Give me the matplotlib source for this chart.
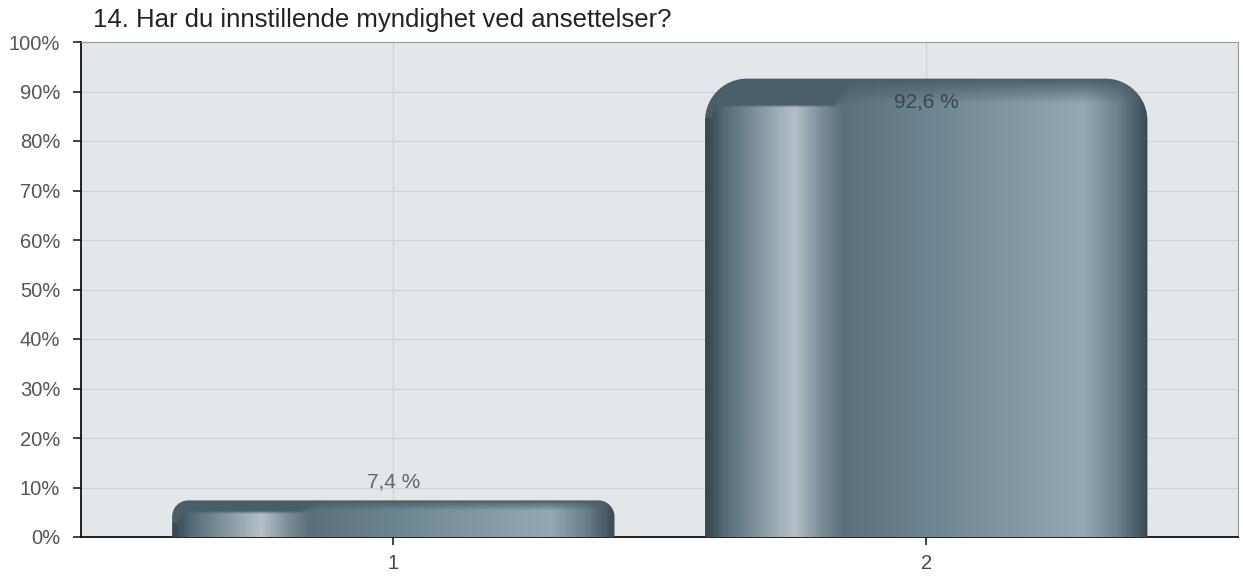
import numpy as np
import matplotlib.pyplot as plt
from matplotlib.path import Path
from matplotlib.colors import LinearSegmentedColormap, to_rgb

plt.rcParams["font.family"] = ["Liberation Sans", "DejaVu Sans"]

title = "14. Har du innstillende myndighet ved ansettelser?"
categories = ["1", "2"]
values = [7.4, 92.6]
labels = ["7,4 %", "92,6 %"]
yticks = [0, 10, 20, 30, 40, 50, 60, 70, 80, 90, 100]

# horizontal metallic profile of the bars
stops = [(0.0, "#36454f"), (0.04, "#526a77"), (0.12, "#8596a0"), (0.2, "#b6c1c7"),
         (0.26, "#7b8e98"), (0.31, "#5a6f7b"), (0.5, "#6c8491"), (0.75, "#889eaa"),
         (0.86, "#93a8b4"), (0.94, "#677d89"), (1.0, "#3a4b56")]
metal = LinearSegmentedColormap.from_list("metal", stops)
top_dark = np.array(to_rgb("#4a5e6a"))


def rounded_top(x0, x1, y0, y1, rx, ry):
    k = 0.5523
    verts = [(x0, y0), (x0, y1 - ry),
             (x0, y1 - ry + k * ry), (x0 + rx - k * rx, y1), (x0 + rx, y1),
             (x1 - rx, y1),
             (x1 - rx + k * rx, y1), (x1, y1 - ry + k * ry), (x1, y1 - ry),
             (x1, y0), (x0, y0)]
    codes = [Path.MOVETO, Path.LINETO,
             Path.CURVE4, Path.CURVE4, Path.CURVE4,
             Path.LINETO,
             Path.CURVE4, Path.CURVE4, Path.CURVE4,
             Path.LINETO, Path.CLOSEPOLY]
    return Path(verts, codes)


fig = plt.figure(figsize=(12.43, 5.78), dpi=100)
ax = fig.add_axes([81 / 1243, 1 - 537 / 578, 1157 / 1243, 495 / 578])
ax.set_facecolor("#e4e7ea")
ax.set_xlim(0.414, 2.585)
ax.set_ylim(0, 100)

xs = np.arange(1, len(categories) + 1)
width = 0.83
px_x = 1157 / (2.585 - 0.414)
px_y = 495 / 100

for x, v, lab in zip(xs, values, labels):
    x0, x1 = x - width / 2, x + width / 2
    hpx = int(v * px_y)
    r = min(42, hpx * 0.45)
    nx = 440
    ny = max(hpx, 2)
    fx = np.linspace(0, 1, nx)
    horiz = metal(fx)[:, :3]
    d = np.arange(ny)[:, None]  # pixels from top
    # left part: crisp inner panel with a small rounded inner corner, right part: soft shading
    w = np.clip((0.33 - fx) / 0.04, 0, 1)[None, :]
    inner = 0.62 * r
    cr = min(12, inner)
    dx = np.clip(cr + 6 - fx[None, :] * nx, 0, cr)
    corner = cr - np.sqrt(cr ** 2 - dx ** 2)
    a = (inner + corner) * w
    b = 3 * w + 0.6 * r * (1 - w)
    t = np.clip((d - a) / b, 0, 1)
    img = horiz[None, :, :] * t[..., None] + top_dark[None, None, :] * (1 - t[..., None])
    im = ax.imshow(img, extent=[x0, x1, 0, v], aspect="auto", origin="upper",
                   interpolation="bilinear", zorder=3)
    path = rounded_top(x0, x1, 0, v, r / px_x, r / px_y)
    im.set_clip_path(path, transform=ax.transData)
    if v > 50:
        ax.text(x, v - 4.7, lab, ha="center", va="center", fontsize=15, color="#3a4550", zorder=4)
    else:
        ax.text(x, v + 3.7, lab, ha="center", va="center", fontsize=15, color="#666666", zorder=4)

ax.set_yticks(yticks)
ax.set_yticklabels([f"{t}%" for t in yticks], fontsize=14.5, color="#555555")
ax.set_xticks(xs)
ax.set_xticklabels(categories, fontsize=14.5, color="#444444")
ax.grid(True, color="#cfd2d5", linewidth=0.8, zorder=0)
ax.set_axisbelow(True)
ax.tick_params(axis="both", length=6, width=1.2, color="#222222")
ax.tick_params(axis="y", pad=9)
ax.tick_params(axis="x", pad=6)
for s in ["top", "right"]:
    ax.spines[s].set_color("#9a9a9a")
for s in ["left", "bottom"]:
    ax.spines[s].set_color("#111111")
    ax.spines[s].set_linewidth(1.3)

fig.text(93 / 1243, 1 - 20 / 578, title, fontsize=18.5, color="#222222", va="center", ha="left")

fig.savefig("out.png", dpi=100)
